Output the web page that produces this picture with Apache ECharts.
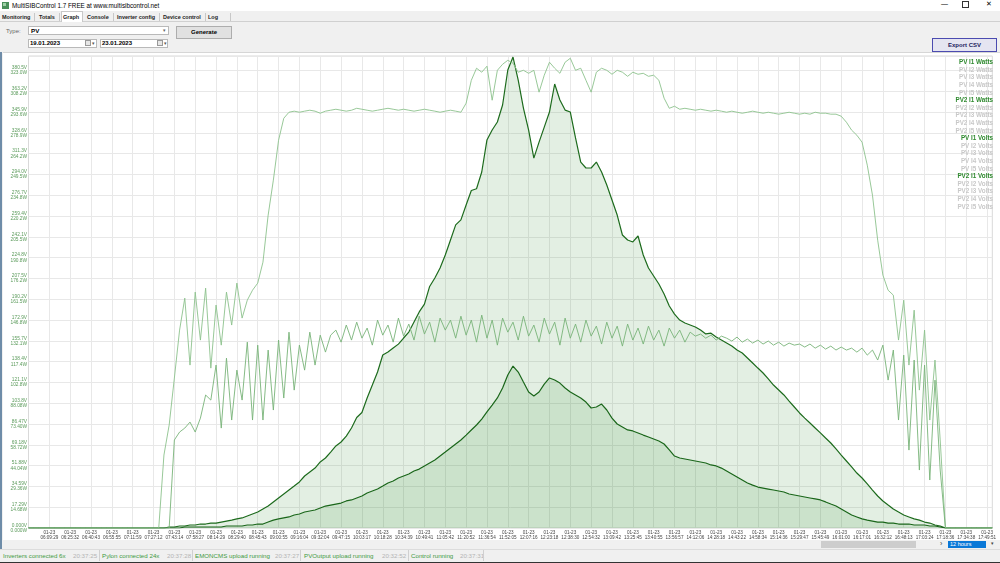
<!DOCTYPE html>
<html>
<head>
<meta charset="utf-8">
<script src="https://cdn.jsdelivr.net/npm/echarts@6/dist/echarts.min.js"></script>
<style>
  html,body{margin:0;padding:0;}
  body{width:1000px;height:563px;overflow:hidden;background:#f0f0f0;position:relative;font-family:"Liberation Sans",Arial,sans-serif;color:#000;}
  .abs{position:absolute;white-space:nowrap;}
  #titlebar{left:0;top:0;width:1000px;height:11px;background:#fff;}
  #titlebar .t{left:12px;top:2px;font-size:6.3px;}
  .tab{top:13.5px;font-size:5.5px;font-weight:bold;color:#222;}
  .sep{top:13px;width:1px;height:8px;background:#c8c8c8;}
  .box{background:#fff;border:1px solid #b9b9b9;box-sizing:border-box;}
  .btn{background:#e1e1e1;border:1px solid #adadad;box-sizing:border-box;font-size:6px;font-weight:bold;text-align:center;}
  .st{top:552px;font-size:6.2px;}
  .g{color:#3f9a3f;}
  .gr{color:#b4b4b4;}
  .vs{top:550px;width:1px;height:11px;background:#d0d0d0;}
</style>
</head>
<body>
<div id="titlebar" class="abs">
  <div class="abs" style="left:2px;top:2px;width:7px;height:7px;background:#4a8f5a;"></div>
  <div class="abs" style="left:3px;top:3px;width:3px;height:3px;background:#9fd0a6;"></div>
  <div class="abs t">MultiSIBControl 1.7 FREE at www.multisibcontrol.net</div>
  <div class="abs" style="left:941px;top:0px;font-size:7px;">&#8212;</div>
  <div class="abs" style="left:962px;top:1px;width:5px;height:5px;border:1px solid #333;"></div>
  <div class="abs" style="left:986px;top:0px;font-size:7px;">&#10005;</div>
</div>
<!-- tabs -->
<div class="abs" style="left:0;top:21px;width:1000px;height:1px;background:#d0d0d0;"></div>
<div class="abs" style="left:61px;top:11px;width:22px;height:11px;background:#fff;border:1px solid #c8c8c8;border-bottom:none;box-sizing:border-box;"></div>
<div class="abs tab" style="left:2px;">Monitoring</div>
<div class="abs sep" style="left:34px;"></div>
<div class="abs tab" style="left:39px;">Totals</div>
<div class="abs sep" style="left:59px;"></div>
<div class="abs tab" style="left:63px;">Graph</div>
<div class="abs tab" style="left:87px;">Console</div>
<div class="abs sep" style="left:113px;"></div>
<div class="abs tab" style="left:117px;">Inverter config</div>
<div class="abs sep" style="left:159px;"></div>
<div class="abs tab" style="left:163px;">Device control</div>
<div class="abs sep" style="left:205px;"></div>
<div class="abs tab" style="left:208px;">Log</div>
<div class="abs sep" style="left:230px;"></div>
<!-- controls -->
<div class="abs" style="left:6px;top:28px;font-size:6px;color:#666;">Type:</div>
<div class="abs box" style="left:28px;top:26px;width:141px;height:9px;"></div>
<div class="abs" style="left:31px;top:27px;font-size:6.2px;font-weight:bold;">PV</div>
<div class="abs" style="left:163px;top:27px;font-size:5px;color:#666;">&#9662;</div>
<div class="abs btn" style="left:176px;top:26px;width:56px;height:13px;line-height:11px;">Generate</div>
<div class="abs box" style="left:28px;top:39px;width:69px;height:9px;"></div>
<div class="abs" style="left:30px;top:40px;font-size:6px;font-weight:bold;">19.01.2023</div>
<div class="abs" style="left:85px;top:40px;width:6px;height:6px;border:1px solid #999;background:#e6e6e6;box-sizing:border-box;"></div>
<div class="abs" style="left:92px;top:40px;font-size:5px;color:#555;">&#9662;</div>
<div class="abs box" style="left:100px;top:39px;width:68px;height:9px;"></div>
<div class="abs" style="left:102px;top:40px;font-size:6px;font-weight:bold;">23.01.2023</div>
<div class="abs" style="left:157px;top:40px;width:6px;height:6px;border:1px solid #999;background:#e6e6e6;box-sizing:border-box;"></div>
<div class="abs" style="left:164px;top:40px;font-size:5px;color:#555;">&#9662;</div>
<!-- chart panel -->
<div class="abs" style="left:3px;top:52px;width:997px;height:488px;background:#fff;border-top:1px solid #d6d6d6;box-sizing:border-box;"></div>
<div class="abs" style="left:0;top:52px;width:2px;height:497px;background:#6e8ca8;"></div>
<div class="abs btn" style="left:932px;top:38px;width:65px;height:14px;line-height:12px;background:#e5e5f1;border:1px solid #4b4bb0;color:#1b1b5e;">Export CSV</div>
<!-- scroll row -->
<div class="abs" style="left:821px;top:541px;width:95px;height:7px;background:#cdcdcd;"></div>
<div class="abs" style="left:940px;top:540px;font-size:7px;color:#444;">&#8250;</div>
<div class="abs" style="left:948px;top:541px;width:38px;height:7px;background:#0a78d7;color:#fff;font-size:5.5px;line-height:7px;padding-left:2px;box-sizing:border-box;">12 hours</div>
<div class="abs" style="left:991px;top:540px;font-size:5px;color:#444;">&#9662;</div>
<!-- status bar -->
<div class="abs" style="left:0;top:549px;width:1000px;height:1px;background:#dcdcdc;"></div>
<div class="abs st g" style="left:3px;">Inverters connected 6x</div>
<div class="abs st gr" style="left:73px;">20:37:25</div>
<div class="abs vs" style="left:99px;"></div>
<div class="abs st g" style="left:102px;">Pylon connected 24x</div>
<div class="abs st gr" style="left:167px;">20:37:28</div>
<div class="abs vs" style="left:192px;"></div>
<div class="abs st g" style="left:195px;">EMONCMS upload running</div>
<div class="abs st gr" style="left:275px;">20:37:27</div>
<div class="abs vs" style="left:300px;"></div>
<div class="abs st g" style="left:304px;">PVOutput upload running</div>
<div class="abs st gr" style="left:382px;">20:32:52</div>
<div class="abs vs" style="left:408px;"></div>
<div class="abs st g" style="left:411px;">Control running</div>
<div class="abs st gr" style="left:460px;">20:37:31</div>
<div class="abs vs" style="left:483px;"></div>
<div class="abs" style="left:0;top:562px;width:1000px;height:1px;background:#333;"></div>

<div id="chart" class="abs" style="left:0;top:0;width:1000px;height:563px;"></div>
<script>
// ---------- data ----------
const datePrefix = '01-23';
const timeLabels = ['06:09:29','06:25:32','06:40:43','06:55:55','07:11:59','07:27:12','07:43:14','07:58:27','08:14:29','08:29:40',
  '08:45:43','09:00:55','09:16:04','09:32:04','09:47:15','10:03:17','10:18:28','10:34:39','10:49:41','11:05:42',
  '11:20:52','11:36:54','11:52:05','12:07:16','12:23:18','12:38:30','12:54:32','13:09:42','13:25:45','13:40:55',
  '13:56:57','14:12:06','14:28:18','14:43:22','14:58:34','15:14:36','15:29:47','15:45:49','16:01:00','16:17:01',
  '16:32:12','16:48:13','17:03:24','17:18:36','17:34:38','17:49:51'];
const voltTickLabels = ['0.000V','17.29V','34.59V','51.88V','69.18V','86.47V','103.8V','121.1V','138.4V','155.7V','172.9V',
  '190.2V','207.5V','224.8V','242.1V','259.4V','276.7V','294.0V','311.3V','328.6V','345.9V','363.2V','380.5V'];
const wattTickLabels = ['0.000W','14.68W','29.36W','44.04W','58.72W','73.40W','88.08W','102.8W','117.4W','132.1W','146.8W',
  '161.5W','176.2W','190.8W','205.5W','220.2W','234.8W','249.5W','264.2W','278.9W','293.6W','308.2W','323.0W'];
const legendNames = ['PV I1 Watts','PV I2 Watts','PV I3 Watts','PV I4 Watts','PV I5 Watts',
  'PV2 I1 Watts','PV2 I2 Watts','PV2 I3 Watts','PV2 I4 Watts','PV2 I5 Watts',
  'PV I1 Volts','PV I2 Volts','PV I3 Volts','PV I4 Volts','PV I5 Volts',
  'PV2 I1 Volts','PV2 I2 Volts','PV2 I3 Volts','PV2 I4 Volts','PV2 I5 Volts'];

const pvI1Watts = [0,0,0,0,0,0,0,0,0,0,0,0,0,0,0,0,0,0,0,0,0,0,0,0,0,0,0,
  0.7,0.7,1.4,1.4,2.1,2.1,2.8,2.8,3.5,3.5,4.2,4.9,5.6,6.4,7.1,8.5,9.9,11.3,13.4,15.5,18.4,21.2,24.0,26.8,
  29.6,32.5,36.7,39.5,42.3,46.6,49.4,53.6,57.9,60.7,64.9,70.6,78.0,81.5,91.8,100.9,110.1,122.1,124.2,127.0,
  129.8,134.1,138.3,145.4,152.5,158.0,170.5,176.5,183.5,192.7,203.3,214.0,217.5,228.0,238.2,239.5,251.3,273.9,280.9,286.6,
  298.6,323.3,332.4,316.2,296.4,280.9,261.1,272.4,283.0,293.6,313.4,302.1,295.0,293.6,275.3,258.3,254.1,254.1,258.3,251.3,
  242.1,231.5,220.9,206.8,203.3,201.9,206.1,192.7,183.5,177.9,172.2,165.2,156.7,151.0,146.8,144.7,143.3,141.9,139.7,137.0,
  137.5,134.8,132.7,130.6,128.5,125.6,123.5,120.0,116.5,112.9,109.4,105.2,100.9,97.4,93.9,89.6,85.4,81.2,77.6,74.1,
  70.6,67.1,63.5,60.0,55.8,51.5,47.3,43.1,38.8,35.3,31.1,26.8,22.6,19.1,16.2,13.4,11.3,9.2,7.8,6.4,
  5.6,4.2,3.5,2.1,1.4,0,0,0,0,0,0,0,0,0,0];
const pv2I1Watts = [0,0,0,0,0,0,0,0,0,0,0,0,0,0,0,0,0,0,0,0,0,0,0,0,0,0,0,0,0,0,
  0.7,0.7,0.7,0.7,0.7,0.7,0.7,0.7,1.4,1.4,1.4,1.4,2.1,2.1,2.8,2.8,4.2,5.6,6.4,7.1,
  7.8,9.2,9.9,11.3,12.0,12.7,14.1,15.5,16.2,16.9,17.6,19.1,19.8,21.2,22.6,24.7,26.1,27.5,29.6,31.8,
  33.2,35.3,36.7,38.1,40.2,41.6,43.8,45.9,48.0,50.8,53.6,56.5,59.3,62.1,65.6,69.2,72.7,76.9,81.9,86.8,
  91.8,98.8,108.0,114.3,110.1,103.0,96.0,93.2,96.0,101.6,105.9,104.5,102.3,98.8,96.0,93.9,91.8,88.9,84.7,85.4,
  87.5,83.3,77.6,73.4,71.3,69.2,68.5,67.1,65.6,64.2,62.8,61.4,59.3,55.1,50.8,49.4,48.7,48.0,47.3,46.6,
  45.9,44.5,43.8,42.3,40.2,38.1,36.0,33.9,31.8,30.3,28.9,28.2,27.5,26.8,26.1,25.4,24.0,23.3,22.6,21.9,
  21.2,20.5,19.8,18.4,16.9,15.5,13.4,11.3,9.2,7.8,6.4,5.6,4.9,4.2,4.2,3.5,3.5,2.8,2.8,2.8,
  2.1,2.1,2.1,1.4,1.4,0.7,0,0,0,0,0,0,0,0,0,0];
const pvI1Volts = [0,0,0,0,0,0,0,0,0,0,0,0,0,0,0,0,0,0,0,0,0,0,0,0,0,0,
  60.7,85.6,124.7,164.6,191.2,135.5,196.2,156.3,199.5,133.0,185.4,152.1,196.2,168.8,203.7,174.6,189.5,197.8,203.7,221.1,
  260.2,289.3,322.5,340.8,345.8,346.7,
  345.8,346.7,347.5,346.7,345.0,346.7,347.5,348.3,347.5,346.7,347.5,349.1,348.3,347.5,346.7,347.5,
  348.3,349.1,348.3,347.5,348.3,347.5,346.7,347.5,348.3,347.5,346.7,345.8,346.7,347.5,346.7,345.8,
  353.3,372.4,382.4,379.1,384.1,355.8,380.7,385.7,389.0,386.6,379.1,380.7,378.2,380.7,362.5,376.6,387.4,382.4,378.2,387.4,
  390.7,380.7,382.4,372.4,362.5,379.1,382.4,380.7,377.4,380.7,379.1,375.7,379.1,377.4,378.2,375.7,376.6,372.4,357.5,349.1,
  350.8,348.3,349.1,
  348.3,347.5,348.3,347.5,346.7,347.5,346.7,345.8,346.7,345.8,345.0,345.8,346.7,345.8,345.0,345.8,345.0,344.2,345.0,345.8,
  345.0,344.2,345.0,344.2,
  345.8,345.0,345.0,344.2,344.2,342.5,337.5,330.9,326.7,320.9,301.8,276.8,239.4,210.3,197.8,193.7,156.3,189.5,135.5,181.2,
  114.7,164.6,89.8,139.7,73.2,0,0,0,0,0,0,0,0,0,0];
const pv2I1Volts = [0,0,0,0,0,0,0,0,0,0,0,0,0,0,0,0,0,0,0,0,0,0,0,0,0,0,0,0,
  73.2,79.8,83.1,88.1,79.8,91.4,110.6,106.4,135.5,83.1,141.3,89.8,131.3,106.4,154.6,89.8,152.1,89.8,148.0,98.1,
  156.3,108.1,162.9,114.7,152.1,131.3,162.9,135.5,160.4,146.3,160.4,164.6,154.6,
  168.8,156.3,171.2,157.9,166.3,152.1,172.9,160.4,168.8,154.6,174.6,159.6,169.6,156.3,176.2,161.3,171.2,154.6,174.6,164.6,
  172.9,157.9,176.2,160.4,172.9,154.6,177.1,157.9,172.9,152.1,174.6,162.9,171.2,156.3,176.2,159.6,168.8,154.6,174.6,161.3,
  171.2,152.1,174.6,157.9,169.6,154.6,172.9,159.6,167.9,153.0,171.2,157.9,167.9,151.3,169.6,156.3,166.3,153.0,167.9,156.3,
  164.6,151.3,166.3,157.9,164.6,154.6,162.9,
  159.6,161.3,157.9,160.4,156.3,159.6,157.9,155.5,158.8,154.6,157.1,153.8,156.3,153.0,155.5,152.1,154.6,151.3,153.8,152.1,
  153.0,150.5,153.0,149.6,152.1,148.8,151.3,148.0,150.5,148.0,149.6,146.3,149.6,143.8,148.0,139.7,152.1,123.0,148.0,89.8,
  143.8,64.8,139.7,48.2,135.5,39.9,123.0,48.2,0,0,0,0,0,0,0,0,0,0];

// ---------- chart ----------
const VOLT_STEP = 17.2945, WATT_STEP = 14.677, SPAN = 22.7;
const isLabelIdx = i => i >= 4 && (i - 4) % 4 === 0 && (i - 4) / 4 < timeLabels.length;
const categories = pvI1Watts.map((_, i) => isLabelIdx(i) ? datePrefix + '\n' + timeLabels[(i - 4) / 4] : 's' + i);

const seriesData = {
  'PV I1 Watts': {data: pvI1Watts, axis: 1, color: '#1d6b1d', width: 1.2, area: true},
  'PV2 I1 Watts': {data: pv2I1Watts, axis: 1, color: '#1a661a', width: 1.2, area: true},
  'PV I1 Volts': {data: pvI1Volts, axis: 0, color: '#8cc28c', width: 0.9},
  'PV2 I1 Volts': {data: pv2I1Volts, axis: 0, color: '#78b378', width: 0.9}
};
const order = ['PV I1 Watts','PV2 I1 Watts','PV I1 Volts','PV2 I1 Volts'];
const series = [];
order.forEach(n => {
  const s = seriesData[n];
  series.push({
    name: n, type: 'line', yAxisIndex: s.axis, data: s.data, symbol: 'none', showSymbol: false,
    lineStyle: {color: s.color, width: s.width}, itemStyle: {color: s.color},
    areaStyle: s.area ? {color: 'rgba(60,140,60,0.2)'} : undefined,
    z: s.area ? 2 : 3
  });
});
legendNames.forEach(n => { if (!seriesData[n]) series.push({name: n, type: 'line', data: [], yAxisIndex: 0}); });
const selected = {};
legendNames.forEach(n => { selected[n] = !!seriesData[n]; });

const chart = echarts.init(document.getElementById('chart'), null, {renderer: 'canvas'});
const font = '"Liberation Sans", Arial, sans-serif';
chart.setOption({
  animation: false,
  backgroundColor: 'transparent',
  grid: {left: 28.5, top: 56, width: 963.8, height: 472, show: true, borderColor: '#d9d9d9', borderWidth: 1, containLabel: false},
  legend: {
    orient: 'vertical', right: 2, top: 59, padding: 0, itemGap: 0.6, itemWidth: 0, itemHeight: 7, icon: 'none',
    align: 'right', selected: selected, inactiveColor: '#c8c8c8',
    textStyle: {fontSize: 6.3, lineHeight: 7, fontWeight: 'bold', fontFamily: font, color: '#2f8a2f'},
    data: legendNames.map(n => ({name: n}))
  },
  xAxis: {
    type: 'category', data: categories, boundaryGap: false,
    axisLine: {show: false}, axisTick: {show: false},
    axisLabel: {interval: (i) => isLabelIdx(i), fontSize: 4.6, lineHeight: 5, color: '#444', margin: 2, fontFamily: font,
      formatter: v => v},
    splitLine: {show: true, interval: (i) => isLabelIdx(i), lineStyle: {color: '#e8e8e8', width: 1}}
  },
  yAxis: [
    {type: 'value', min: 0, max: VOLT_STEP * SPAN, interval: VOLT_STEP,
     axisLine: {show: false}, axisTick: {show: false},
     axisLabel: {showMaxLabel: false, fontSize: 4.8, lineHeight: 5.2, color: '#5a9a5a', margin: 1.5, fontFamily: font,
       formatter: v => { const k = Math.round(v / VOLT_STEP);
         if (Math.abs(v - k * VOLT_STEP) > 0.01 || k >= voltTickLabels.length) return '';
         return voltTickLabels[k] + '\n' + wattTickLabels[k]; }},
     splitLine: {lineStyle: {color: '#e8e8e8', width: 1}}},
    {type: 'value', min: 0, max: WATT_STEP * SPAN, show: false, splitLine: {show: false}}
  ],
  series: series
});
</script>
</body>
</html>
